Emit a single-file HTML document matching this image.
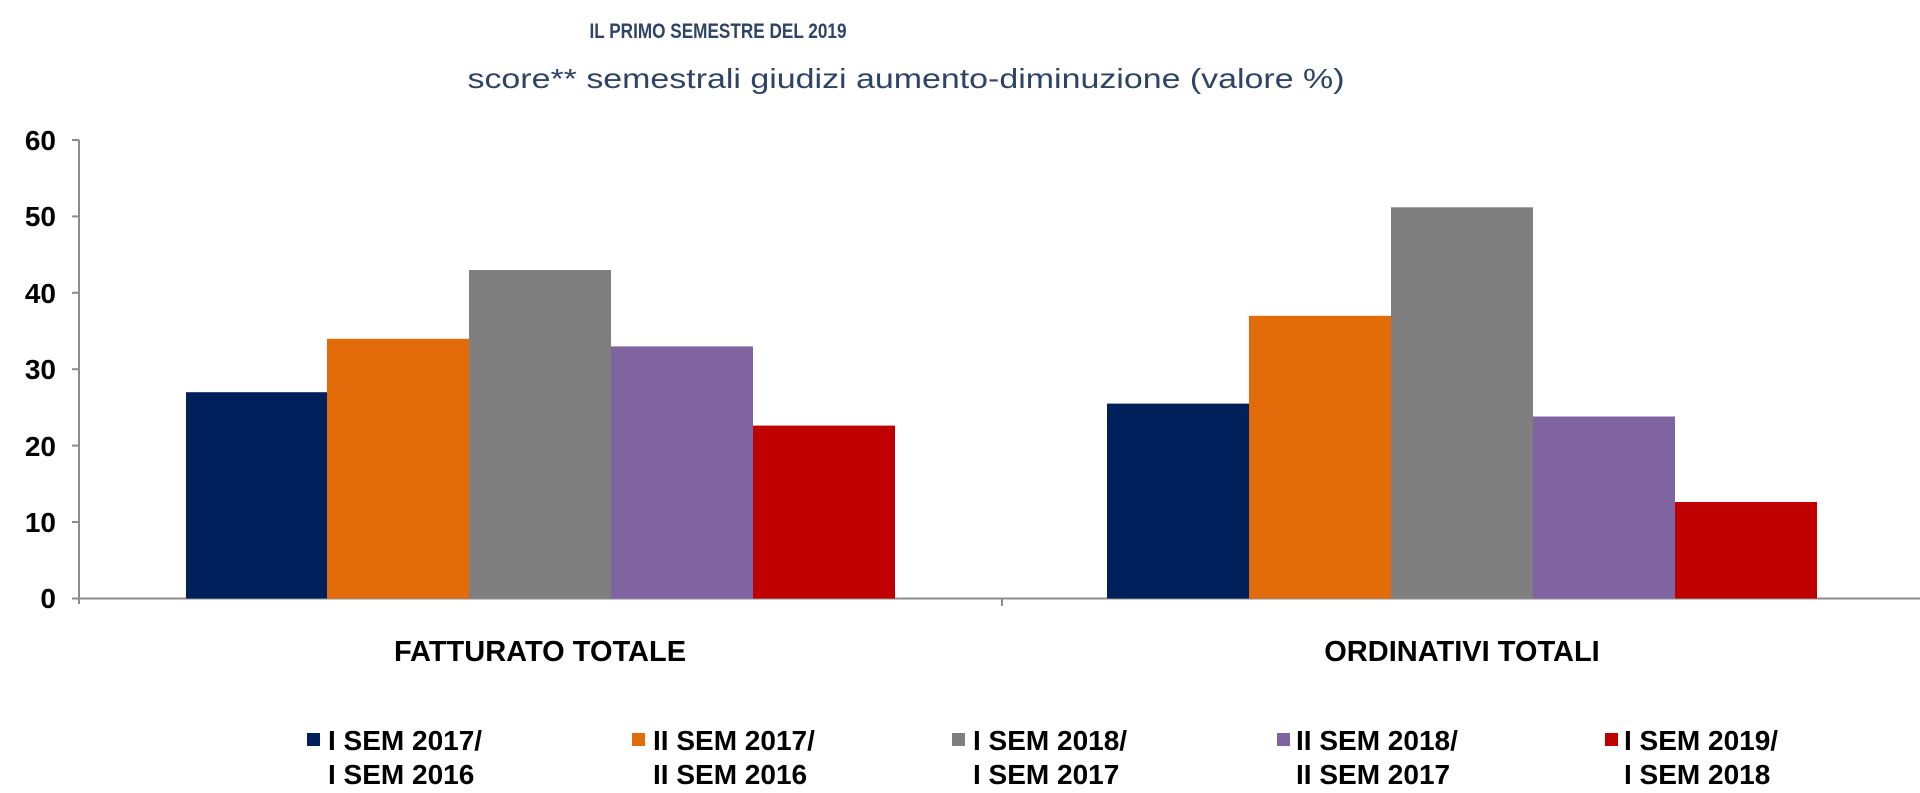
<!DOCTYPE html>
<html><head><meta charset="utf-8"><style>html,body{margin:0;padding:0;background:#fff}svg{display:block}</style></head>
<body>
<svg width="1920" height="793" xmlns="http://www.w3.org/2000/svg" font-family="Liberation Sans, Arial, sans-serif">
<rect width="1920" height="793" fill="#fff"/>
<text x="718" y="38" font-size="21" font-weight="bold" fill="#2e4467" text-anchor="middle" textLength="257" lengthAdjust="spacingAndGlyphs">IL PRIMO SEMESTRE DEL 2019</text>
<text x="906" y="88" font-size="28" fill="#2e4467" text-anchor="middle" textLength="877" lengthAdjust="spacingAndGlyphs">score** semestrali giudizi aumento-diminuzione (valore %)</text>
<g stroke="#8c8c8c" stroke-width="2">
<line x1="79" y1="140" x2="79" y2="604"/>
<line x1="72" y1="598.5" x2="1920" y2="598.5"/>
<line x1="72" y1="140" x2="79" y2="140"/>
<line x1="72" y1="216.4" x2="79" y2="216.4"/>
<line x1="72" y1="292.8" x2="79" y2="292.8"/>
<line x1="72" y1="369.2" x2="79" y2="369.2"/>
<line x1="72" y1="445.6" x2="79" y2="445.6"/>
<line x1="72" y1="522" x2="79" y2="522"/>
<line x1="1002" y1="598.5" x2="1002" y2="606"/>
</g>
<g font-size="28" font-weight="bold" fill="#000" text-anchor="end">
<text x="56" y="150">60</text><text x="56" y="226">50</text><text x="56" y="303">40</text>
<text x="56" y="379">30</text><text x="56" y="456">20</text><text x="56" y="532">10</text><text x="56" y="608">0</text>
</g>
<g>
<rect x="186" y="392.2" width="141" height="206.3" fill="#00205b"/>
<rect x="327" y="338.8" width="142" height="259.7" fill="#e36c0a"/>
<rect x="469" y="270" width="142" height="328.5" fill="#7f7f7f"/>
<rect x="611" y="346.4" width="142" height="252.1" fill="#8064a2"/>
<rect x="753" y="425.6" width="142" height="172.9" fill="#c00000"/>
<rect x="1107" y="403.6" width="142" height="194.9" fill="#00205b"/>
<rect x="1249" y="315.8" width="142" height="282.7" fill="#e36c0a"/>
<rect x="1391" y="207.3" width="142" height="391.2" fill="#7f7f7f"/>
<rect x="1533" y="416.5" width="142" height="182" fill="#8064a2"/>
<rect x="1675" y="502" width="142" height="96.5" fill="#c00000"/>
</g>
<g font-size="29" font-weight="bold" fill="#000" text-anchor="middle">
<text x="540" y="661">FATTURATO TOTALE</text>
<text x="1462" y="661">ORDINATIVI TOTALI</text>
</g>
<g font-size="28" font-weight="bold" fill="#000">
<rect x="307" y="733" width="13" height="13" fill="#00205b"/>
<text x="328" y="750">I SEM 2017/</text><text x="328" y="784">I SEM 2016</text>
<rect x="632" y="733" width="13" height="13" fill="#e36c0a"/>
<text x="653" y="750">II SEM 2017/</text><text x="653" y="784">II SEM 2016</text>
<rect x="952" y="733" width="13" height="13" fill="#7f7f7f"/>
<text x="973" y="750">I SEM 2018/</text><text x="973" y="784">I SEM 2017</text>
<rect x="1277" y="733" width="13" height="13" fill="#8064a2"/>
<text x="1296" y="750">II SEM 2018/</text><text x="1296" y="784">II SEM 2017</text>
<rect x="1605" y="733" width="13" height="13" fill="#c00000"/>
<text x="1624" y="750">I SEM 2019/</text><text x="1624" y="784">I SEM 2018</text>
</g>
</svg>
</body></html>
